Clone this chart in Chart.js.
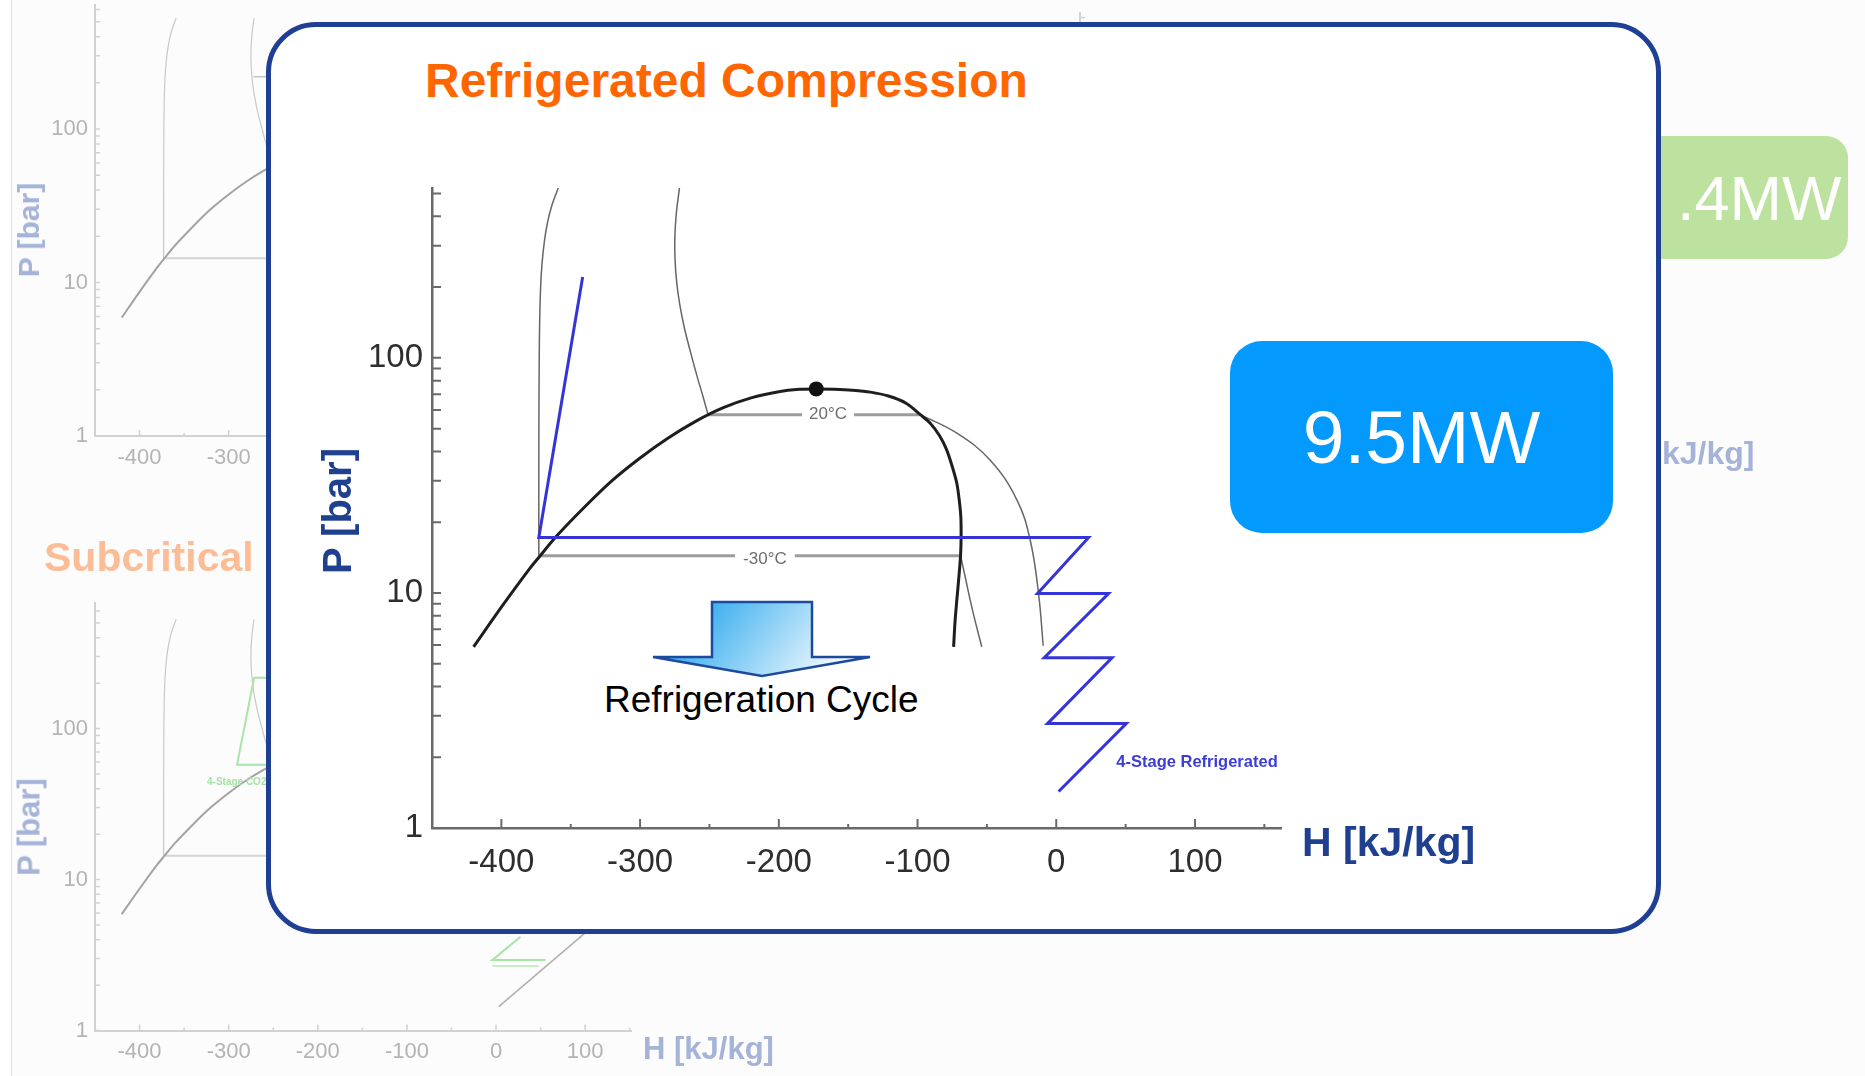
<!DOCTYPE html>
<html>
<head>
<meta charset="utf-8">
<title>Refrigerated Compression</title>
<script src="https://cdn.jsdelivr.net/npm/chart.js@4.4.1/dist/chart.umd.min.js"></script>
<style>
  html, body { margin: 0; padding: 0; background: #fcfcfc; overflow: hidden; }
  #page { position: relative; width: 1865px; height: 1076px; font-family: 'Liberation Sans', Arial, sans-serif; }
  #page > * { position: absolute; }
  .edge { left: 0; top: 0; width: 11px; height: 1076px; background: #fff; border-right: 1px solid #e2e2e2; }
  .txt { white-space: nowrap; line-height: 1; }
  .rot { transform: translate(-50%, -50%) rotate(-90deg); }
  .b { font-weight: bold; }
  .navy { color: #1f3f8f; }
  .fadeNavy { color: #a5b3d8; }
</style>
</head>
<body>
<div id="page">
  <div class="edge"></div>

  <!-- faded slides behind the main panel -->
  <canvas id="bgTopLeft" width="700" height="510" style="left:0;top:-30px"></canvas>
  <canvas id="bgBottomLeft" width="700" height="508" style="left:0;top:568px"></canvas>
  <canvas id="bgTopRight" width="700" height="510" style="left:985px;top:-22px"></canvas>
  <div class="txt b fadeNavy rot" style="left:29px;top:230px;font-size:30px">P [bar]</div>
  <div class="txt b fadeNavy rot" style="left:29px;top:827px;font-size:31px">P [bar]</div>
  <div class="txt b fadeNavy" style="left:643px;top:1033px;font-size:31px">H [kJ/kg]</div>
  <div class="txt b fadeNavy" style="left:1662px;top:437px;font-size:32px">kJ/kg]</div>
  <div class="txt b" style="left:44px;top:537px;font-size:41px;color:#fcbd96">Subcritical</div>
  <div class="txt b" style="left:207px;top:777px;font-size:10px;color:#a6e2a6">4-Stage CO2</div>
  <div style="left:1400px;top:136px;width:448px;height:123px;border-radius:22px;background:#bde2a0"></div>
  <div class="txt" style="left:1677px;top:167px;font-size:63px;color:#fff">.4MW</div>

  <!-- main panel -->
  <div style="left:266px;top:22px;width:1385px;height:902px;border:5px solid #1e3f94;border-radius:50px;background:#fff"></div>
  <div class="txt b" style="left:425px;top:57px;font-size:48px;color:#ff6600">Refrigerated Compression</div>
  <svg width="1865" height="1076" style="left:0;top:0">
    <defs>
      <linearGradient id="arrowFill" gradientUnits="userSpaceOnUse" x1="712" y1="600" x2="830" y2="690">
        <stop offset="0" stop-color="#3cafef"/>
        <stop offset="1" stop-color="#ffffff"/>
      </linearGradient>
    </defs>
    <polygon points="712,602 812,602 812,657 870,657 762,676 653,657 712,657" fill="url(#arrowFill)" stroke="#1e4a9e" stroke-width="2.5" stroke-linejoin="miter"/>
  </svg>
  <div class="txt" style="left:604px;top:681px;font-size:37px;color:#000">Refrigeration Cycle</div>
  <canvas id="main" width="1000" height="762" style="left:342px;top:148px"></canvas>
  <div class="txt b navy rot" style="left:337px;top:511px;font-size:40px">P [bar]</div>
  <div class="txt b navy" style="left:1302px;top:822px;font-size:41px">H [kJ/kg]</div>
  <div class="txt" style="left:1230px;top:341px;width:383px;height:192px;border-radius:32px;background:#0399fd;color:#fff;font-size:75px;display:flex;align-items:center;justify-content:center">9.5MW</div>
</div>

<script>
Chart.defaults.font.family = "'Liberation Sans', Arial, sans-serif";

// enthalpy axis [kJ/kg]
const hMin = -450;
const hLabelTicks = [-400, -300, -200, -100, 0, 100];
const hMinorTicks = [-350, -250, -150, -50, 50, 150];
// pressure axis [bar], logarithmic
const pLabelTicks = [1, 10, 100];
const pMinorTicks = [2, 3, 4, 5, 6, 7, 8, 9, 20, 30, 40, 50, 60, 70, 80, 90, 200, 300, 400, 500, 600];

// CO2 saturation dome
const domeH = [-420, -400, -380, -372, -360, -340, -320, -300, -280, -260, -240, -220, -200, -185, -173,
               -160, -147, -134, -121, -108, -98, -91, -84, -79, -75, -71.7, -70, -68.8, -68.6, -69, -70.3, -71.7, -73, -74];
const domeP = [5.9, 8.7, 12.6, 14.4, 17.5, 23.2, 30.1, 37.5, 45.5, 53.7, 61.4, 67.6, 71.8, 73.5, 73.8,
               73.5, 72.8, 71.5, 68.8, 64.0, 57.3, 52.8, 46.5, 40.6, 34.5, 29.3, 25.0, 21.1, 17.2, 14.4, 11.5, 9.3, 7.5, 5.9];

// -30°C isotherm
const iso30LiqH = [-359, -363.5, -366.6, -368.9, -370.7, -371.7, -372.4, -372.7, -372.95, -373];
const iso30LiqP = [528, 447, 380, 316, 251, 200, 141, 100, 50, 14.4];
const iso30FlatH = [-373, -69];
const iso30FlatP = [14.4, 14.4];
const iso30VapH = [-69, -65.5, -62, -58, -53.7];
const iso30VapP = [14.4, 11.6, 9.3, 7.4, 5.9];

// 20°C isotherm
const iso20LiqH = [-271.6, -273.8, -274.9, -274.8, -273.6, -271.2, -267.8, -263.5, -258.8, -254.8, -251];
const iso20LiqP = [528, 417, 331, 263, 209, 166, 132, 105, 83, 69, 57.3];
const iso20FlatH = [-251, -98];
const iso20FlatP = [57.3, 57.3];
const iso20VapH = [-98, -71.6, -47.6, -28.4, -18.8, -12.8, -9.4];
const iso20VapP = [57.3, 47.8, 36.7, 24.9, 16.8, 9.97, 5.96];

// 4-stage refrigerated compression path
const cycleH = [-341.4, -373, 23.3, -13.5, 37.7, -8.7, 40.2, -6.3, 50.5, 1.7];
const cycleP = [221, 17.2, 17.2, 9.94, 9.94, 5.3, 5.3, 2.78, 2.78, 1.43];

// critical point
const critH = [-173];
const critP = [73.8];

// paths on the faded slides
const topCycleH = [-272, 200];
const topCycleP = [219, 219];
const co2CycleH = [200, -271.5, -290.6, 200];
const co2CycleP = [217, 217, 57.7, 57.7];
const co2StageH = [27.5, -4.3, 55.6];
const co2StageP = [4.18, 2.93, 2.93];
const co2Stage2H = [-4.3, 48];
const co2Stage2P = [2.68, 2.68];
const lastStageH = [3.1, 120];
const lastStageP = [1.44, 5.6];

function line(hs, ps, color, width, tension) {
    return {
        data: hs.map((h, i) => ({x: h, y: ps[i]})),
        borderColor: color,
        borderWidth: width,
        tension: tension || 0,
        pointRadius: 0,
        pointHoverRadius: 0,
        fill: false,
    };
}

// tick marks drawn on the inside of both axes
const innerTicks = {
    id: 'innerTicks',
    afterDraw(chart, args, o) {
        const {ctx, chartArea: a, scales: {x, y}} = chart;
        ctx.save();
        ctx.strokeStyle = o.color;
        ctx.lineWidth = o.width;
        ctx.beginPath();
        x.ticks.forEach(t => {
            const px = x.getPixelForValue(t.value);
            const len = hLabelTicks.includes(t.value) ? o.hMajor : o.hMinor;
            ctx.moveTo(px, a.bottom);
            ctx.lineTo(px, a.bottom - len);
        });
        y.ticks.forEach(t => {
            const py = y.getPixelForValue(t.value);
            ctx.moveTo(a.left, py);
            ctx.lineTo(a.left + o.pLen, py);
        });
        ctx.stroke();
        ctx.restore();
    }
};

// small text placed on the curves
const curveLabels = {
    id: 'curveLabels',
    afterDatasetsDraw(chart, args, o) {
        if (!o.items) return;
        const {ctx, scales: {x, y}} = chart;
        ctx.save();
        o.items.forEach(it => {
            const px = x.getPixelForValue(it.h);
            const py = y.getPixelForValue(it.p) + (it.dy || 0);
            ctx.font = it.font;
            const w = ctx.measureText(it.text).width;
            if (it.clear) {
                ctx.fillStyle = '#fff';
                ctx.fillRect(px - w / 2 - it.clear, py - 6 - (it.dy || 0), w + 2 * it.clear, 12);
            }
            ctx.fillStyle = it.color;
            ctx.textAlign = it.align || 'center';
            ctx.textBaseline = 'middle';
            ctx.fillText(it.text, px, py);
        });
        ctx.restore();
    }
};

function phChart(id, o) {
    return new Chart(document.getElementById(id), {
        type: 'line',
        data: {datasets: o.datasets},
        options: {
            responsive: false,
            animation: false,
            devicePixelRatio: 1,
            events: [],
            layout: {padding: {top: o.padTop, right: o.padRight, left: 0, bottom: 0}},
            plugins: {
                legend: {display: false},
                tooltip: {enabled: false},
                innerTicks: o.tickMarks,
                curveLabels: {items: o.labels || []},
            },
            scales: {
                x: {
                    type: 'linear',
                    min: hMin,
                    max: o.hMax,
                    afterBuildTicks: s => {
                        s.ticks = hLabelTicks.concat(hMinorTicks).filter(v => v <= o.hMax)
                            .sort((a, b) => a - b).map(v => ({value: v}));
                    },
                    afterFit: s => { s.height = o.xHeight; },
                    grid: {display: false, drawTicks: false},
                    border: {color: o.axisColor, width: o.axisWidth},
                    ticks: {
                        autoSkip: false, maxRotation: 0, padding: o.xPad,
                        color: o.labelColor, font: {size: o.fontSize},
                        callback: v => hLabelTicks.includes(v) ? String(v) : '',
                    },
                },
                y: {
                    type: 'logarithmic',
                    min: 1,
                    max: o.pMax,
                    afterBuildTicks: s => {
                        s.ticks = pLabelTicks.concat(pMinorTicks).filter(v => v <= o.pMax)
                            .sort((a, b) => a - b).map(v => ({value: v}));
                    },
                    afterFit: s => { s.width = o.yWidth; },
                    grid: {display: false, drawTicks: false},
                    border: {color: o.axisColor, width: o.axisWidth},
                    ticks: {
                        autoSkip: false, padding: o.yPad,
                        color: o.labelColor, font: {size: o.fontSize},
                        callback: v => pLabelTicks.includes(v) ? String(v) : '',
                    },
                },
            },
        },
        plugins: [innerTicks, curveLabels],
    });
}

// main diagram (first dataset is drawn on top)
phChart('main', {
    padTop: 40, padRight: 61, xHeight: 82, yWidth: 90,
    hMax: 162, pMax: 528,
    fontSize: 33, xPad: 15, yPad: 9,
    labelColor: '#2e2e2e', axisColor: '#6a6a6a', axisWidth: 2.5,
    tickMarks: {color: '#6a6a6a', width: 2, hMajor: 9, hMinor: 4, pLen: 9},
    labels: [
        {text: '20°C', h: -164.5, p: 57.3, font: '17px "Liberation Sans", Arial', color: '#6e6e6e', clear: 7},
        {text: '-30°C', h: -210, p: 14.4, dy: 4, font: '17px "Liberation Sans", Arial', color: '#6e6e6e', clear: 8},
        {text: '4-Stage Refrigerated', h: 43.3, p: 1.9, align: 'left', font: 'bold 16.5px "Liberation Sans", Arial', color: '#3c3cd8'},
    ],
    datasets: [
        line(cycleH, cycleP, '#3434d8', 3),
        {data: critH.map((h, i) => ({x: h, y: critP[i]})), showLine: false, pointRadius: 7.5,
         pointBackgroundColor: '#111', pointBorderWidth: 0},
        line(domeH, domeP, '#1e1e1e', 3, 0.3),
        line(iso30FlatH, iso30FlatP, '#9c9c9c', 3),
        line(iso20FlatH, iso20FlatP, '#9c9c9c', 3),
        line(iso30LiqH, iso30LiqP, '#666', 1.5, 0.4),
        line(iso30VapH, iso30VapP, '#666', 1.5, 0.3),
        line(iso20LiqH, iso20LiqP, '#666', 1.5, 0.4),
        line(iso20VapH, iso20VapP, '#666', 1.5, 0.4),
    ],
});

// faded slides
function fadedBase() {
    return [
        line(domeH, domeP, '#a3a3a3', 2, 0.3),
        line(iso30FlatH, iso30FlatP, '#d4d4d4', 2),
        line(iso20FlatH, iso20FlatP, '#d4d4d4', 2),
        line(iso30LiqH, iso30LiqP, '#c8c8c8', 1.2, 0.4),
        line(iso30VapH, iso30VapP, '#c8c8c8', 1.2, 0.3),
        line(iso20LiqH, iso20LiqP, '#c8c8c8', 1.2, 0.4),
        line(iso20VapH, iso20VapP, '#c8c8c8', 1.2, 0.4),
    ];
}
const fadedStyle = {
    padTop: 35, padRight: 68.5, yWidth: 95, hMax: 152,
    fontSize: 22, yPad: 7,
    labelColor: '#b4b4b4', axisColor: '#d2d2d2', axisWidth: 2,
    tickMarks: {color: '#d2d2d2', width: 1.5, hMajor: 6, hMinor: 3, pLen: 5},
};

phChart('bgTopLeft', Object.assign({}, fadedStyle, {
    xHeight: 44, pMax: 643, xPad: 9,
    datasets: [line(topCycleH, topCycleP, '#c4c4c4', 1.5)].concat(fadedBase()),
}));

phChart('bgTopRight', Object.assign({}, fadedStyle, {
    xHeight: 44, pMax: 643, xPad: 9,
    datasets: fadedBase(),
}));

phChart('bgBottomLeft', Object.assign({}, fadedStyle, {
    xHeight: 45.4, pMax: 679, xPad: 8,
    datasets: [
        line(co2CycleH, co2CycleP, '#a8e4a8', 2),
        line(co2StageH, co2StageP, '#a8e4a8', 2),
        line(co2Stage2H, co2Stage2P, '#c6efc6', 2),
        line(lastStageH, lastStageP, '#b0b0b0', 1.5),
    ].concat(fadedBase()),
}));
</script>
</body>
</html>
